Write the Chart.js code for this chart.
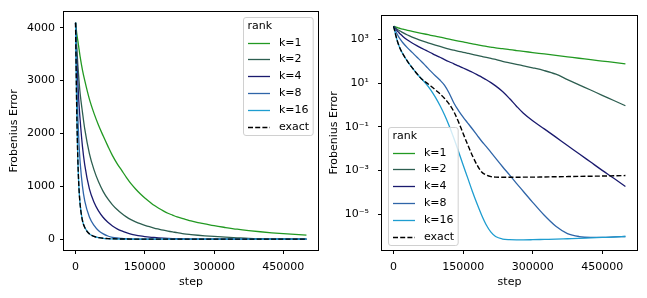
<!DOCTYPE html>
<html>
<head>
<meta charset="utf-8">
<script src="https://cdn.jsdelivr.net/npm/chart.js@4.4.0/dist/chart.umd.min.js"></script>
<style>
html, body { margin: 0; padding: 0; background: #fff; }
#wrap { position: relative; width: 647px; height: 298px; }
canvas { position: absolute; top: 0; }
</style>
</head>
<body>
<div id="wrap">
  <canvas id="lin" width="323" height="298" style="left:0"></canvas>
  <canvas id="log" width="324" height="298" style="left:323px"></canvas>
</div>
<script>
// training steps shared by every run
const steps = [0, 2500, 5000, 7500, 10000, 15000, 20000, 30000, 40000, 50000, 60000, 70000, 80000, 90000,
  100000, 110000, 120000, 130000, 140000, 150000, 160000, 170000, 180000, 190000, 200000, 210000, 220000,
  235000, 250000, 265000, 280000, 300000, 325000, 350000, 375000, 400000, 425000, 450000, 475000, 500000];

const rankLabels = ["k=1", "k=2", "k=4", "k=8", "k=16", "exact"];
const legendTitle = "rank";

const errK1 = [4096, 3900, 3750, 3600, 3450, 3200, 3000, 2650, 2380, 2150, 1950, 1760, 1580, 1430,
  1300, 1170, 1050, 950, 860, 780, 710, 640, 585, 535, 490, 455, 420,
  385, 345, 315, 290, 255, 220, 188, 162, 140, 120, 104, 90, 78];
const errK2 = [4096, 3650, 3300, 3000, 2750, 2400, 2080, 1620, 1310, 1080, 900, 760, 650, 560,
  485, 422, 370, 328, 292, 262, 235, 211, 190, 170, 152, 137, 124,
  100, 86, 74, 63, 51, 38, 26, 14.8, 8.5, 4.9, 2.8, 1.62, 0.93];
const errK4 = [4096, 3450, 2950, 2550, 2250, 1750, 1400, 950, 700, 530, 410, 320, 250, 195,
  155, 122, 97, 78, 62, 50, 40, 32, 25, 19, 14.5, 10.7, 7.6,
  4.2, 2.0, 0.89, 0.42, 0.19, 0.081, 0.034, 0.014, 0.0059, 0.00245, 0.00102, 0.00044, 0.000186];
const errK8 = [4096, 3000, 2300, 1800, 1450, 1000, 720, 420, 260, 160, 100, 60, 36, 22,
  14, 8, 3.5, 1.25, 0.56, 0.28, 0.15, 0.08, 0.042, 0.022, 0.0126, 0.0068, 0.0037,
  0.0015, 6.3e-4, 2.6e-4, 1.1e-4, 3.5e-5, 8.9e-6, 2.8e-6, 1.3e-6, 9.5e-7, 8.7e-7, 8.7e-7, 9.1e-7, 9.5e-7];
const errK16 = [4096, 2500, 1500, 950, 650, 350, 220, 100, 52, 28, 16, 9.5, 5, 2.3,
  0.95, 0.35, 0.11, 0.03, 0.0075, 0.0018, 4.5e-4, 1.1e-4, 3e-5, 9e-6, 3.2e-6, 1.5e-6, 9.5e-7,
  7.3e-7, 6.8e-7, 6.7e-7, 6.7e-7, 6.8e-7, 7e-7, 7.2e-7, 7.5e-7, 7.8e-7, 8.2e-7, 8.6e-7, 9e-7, 9.5e-7];
const errExact = [4096, 2500, 1500, 950, 650, 350, 220, 100, 52, 28, 16, 11, 7.5, 5,
  3.3, 2, 1.1, 0.5, 0.17, 0.05, 0.015, 0.0048, 0.0018, 8.5e-4, 6.2e-4, 5.3e-4, 5.0e-4,
  4.9e-4, 4.9e-4, 4.9e-4, 5.0e-4, 5.0e-4, 5.1e-4, 5.2e-4, 5.3e-4, 5.4e-4, 5.5e-4, 5.6e-4, 5.75e-4, 5.9e-4];

const stepTicks = [0, 150000, 300000, 450000];
const linTicksY = [0, 1000, 2000, 3000, 4000];
const logTicksY = [1e-5, 1e-3, 1e-1, 1e1, 1e3];
const logTickLabels = ["10⁻⁵", "10⁻³", "10⁻¹", "10¹", "10³"];

const series = [errK1, errK2, errK4, errK8, errK16, errExact];
const colors = ["#229922", "#2d5e50", "#1a1a6e", "#2f65a8", "#1e9dd0", "#000000"];

Chart.defaults.font.family = "'DejaVu Sans', sans-serif";
Chart.defaults.font.size = 11;
Chart.defaults.color = "#000";

// full box around the plot area, like matplotlib spines
const frame = {
  id: "frame",
  afterDatasetsDraw(chart) {
    const { ctx, chartArea: a } = chart;
    ctx.save();
    ctx.strokeStyle = "#000";
    ctx.lineWidth = 1;
    ctx.strokeRect(Math.round(a.left) - 0.5, Math.round(a.top) - 0.5,
      Math.round(a.right - a.left) + 1, Math.round(a.bottom - a.top) + 1);
    ctx.restore();
  }
};

// matplotlib-style legend box with title
const boxLegend = {
  id: "boxLegend",
  afterDatasetsDraw(chart, args, opts) {
    const ctx = chart.ctx, a = chart.chartArea;
    const sets = chart.data.datasets;
    ctx.save();
    ctx.font = "11px 'DejaVu Sans'";
    const tw = Math.max(ctx.measureText(legendTitle).width, ...sets.map(d => ctx.measureText(d.label).width));
    const w = 4.5 + 22 + 9 + tw + 4;
    const rowH = 16.8;
    const h = 25 + rowH * (sets.length - 1) + 9;
    const pad = 5.5;
    let x0, y0;
    if (opts.corner === "upper right") { x0 = a.right - pad - w; y0 = a.top + pad; }
    else { x0 = a.left + pad; y0 = a.bottom - pad - h; }
    x0 = Math.round(x0) + 0.5; y0 = Math.round(y0) + 0.5;
    const r = 2.5;
    ctx.beginPath();
    ctx.moveTo(x0 + r, y0);
    ctx.lineTo(x0 + w - r, y0); ctx.quadraticCurveTo(x0 + w, y0, x0 + w, y0 + r);
    ctx.lineTo(x0 + w, y0 + h - r); ctx.quadraticCurveTo(x0 + w, y0 + h, x0 + w - r, y0 + h);
    ctx.lineTo(x0 + r, y0 + h); ctx.quadraticCurveTo(x0, y0 + h, x0, y0 + h - r);
    ctx.lineTo(x0, y0 + r); ctx.quadraticCurveTo(x0, y0, x0 + r, y0);
    ctx.closePath();
    ctx.fillStyle = "rgba(255,255,255,0.8)";
    ctx.fill();
    ctx.strokeStyle = "#d0d0d0";
    ctx.lineWidth = 1;
    ctx.stroke();
    ctx.fillStyle = "#000";
    ctx.textBaseline = "middle";
    ctx.textAlign = "left";
    ctx.fillText(legendTitle, x0 + 4, y0 + 8.5);
    sets.forEach((d, i) => {
      const cy = Math.round(y0 + 25 + i * rowH) + 0.5;
      ctx.beginPath();
      ctx.setLineDash(d.borderDash || []);
      ctx.strokeStyle = d.borderColor;
      ctx.lineWidth = d.borderWidth;
      ctx.moveTo(x0 + 4.5, cy);
      ctx.lineTo(x0 + 26.5, cy);
      ctx.stroke();
      ctx.setLineDash([]);
      ctx.fillText(d.label, x0 + 35.5, cy);
    });
    ctx.restore();
  }
};

function buildDatasets() {
  return series.map((vals, i) => ({
    label: rankLabels[i],
    data: steps.map((s, j) => ({ x: s, y: vals[j] })),
    borderColor: colors[i],
    borderWidth: i === 5 ? 1.4 : 1.3,
    borderDash: i === 5 ? [5, 2.2] : [],
    pointRadius: 0,
    fill: false,
    cubicInterpolationMode: "monotone",
    order: 6 - i
  }));
}

function makeChart(id, yScale, axisW, padRight, titlePad, corner) {
  return new Chart(document.getElementById(id), {
    type: "line",
    data: { datasets: buildDatasets() },
    options: {
      responsive: false,
      animation: false,
      devicePixelRatio: 1,
      layout: { padding: { top: 10, right: padRight, left: 0, bottom: 0 } },
      plugins: {
        legend: { display: false },
        tooltip: { enabled: false },
        boxLegend: { corner: corner }
      },
      scales: {
        x: {
          type: "linear",
          min: -25000,
          max: 525000,
          afterBuildTicks: s => { s.ticks = stepTicks.map(v => ({ value: v })); },
          afterFit: s => { s.height = 48; },
          ticks: { callback: v => String(v), maxRotation: 0, autoSkip: false, padding: 7 },
          grid: { display: true, drawOnChartArea: false, drawTicks: true, tickLength: 4, tickColor: "#000" },
          border: { display: false },
          title: { display: true, text: "step", padding: { top: 0, bottom: 9 } }
        },
        y: Object.assign({
          afterFit: s => { s.width = axisW; },
          grid: { display: true, drawOnChartArea: false, drawTicks: true, tickLength: 4, tickColor: "#000" },
          border: { display: false },
          title: { display: true, text: "Frobenius Error", padding: { top: titlePad, bottom: 0 } }
        }, yScale)
      }
    },
    plugins: [frame, boxLegend]
  });
}

makeChart("lin", {
  type: "linear",
  min: -205,
  max: 4305,
  afterBuildTicks: s => { s.ticks = linTicksY.map(v => ({ value: v })); },
  ticks: { callback: v => String(v), padding: 5 }
}, 64, 5, 8, "upper right");

makeChart("log", {
  type: "logarithmic",
  min: Math.pow(10, -6.64),
  max: Math.pow(10, 4.1),
  afterBuildTicks: s => { s.ticks = logTicksY.map(v => ({ value: v })); },
  ticks: { callback: (v, i) => logTickLabels[i], padding: 9 }
}, 59, 10, 5, "lower left");
</script>
</body>
</html>
